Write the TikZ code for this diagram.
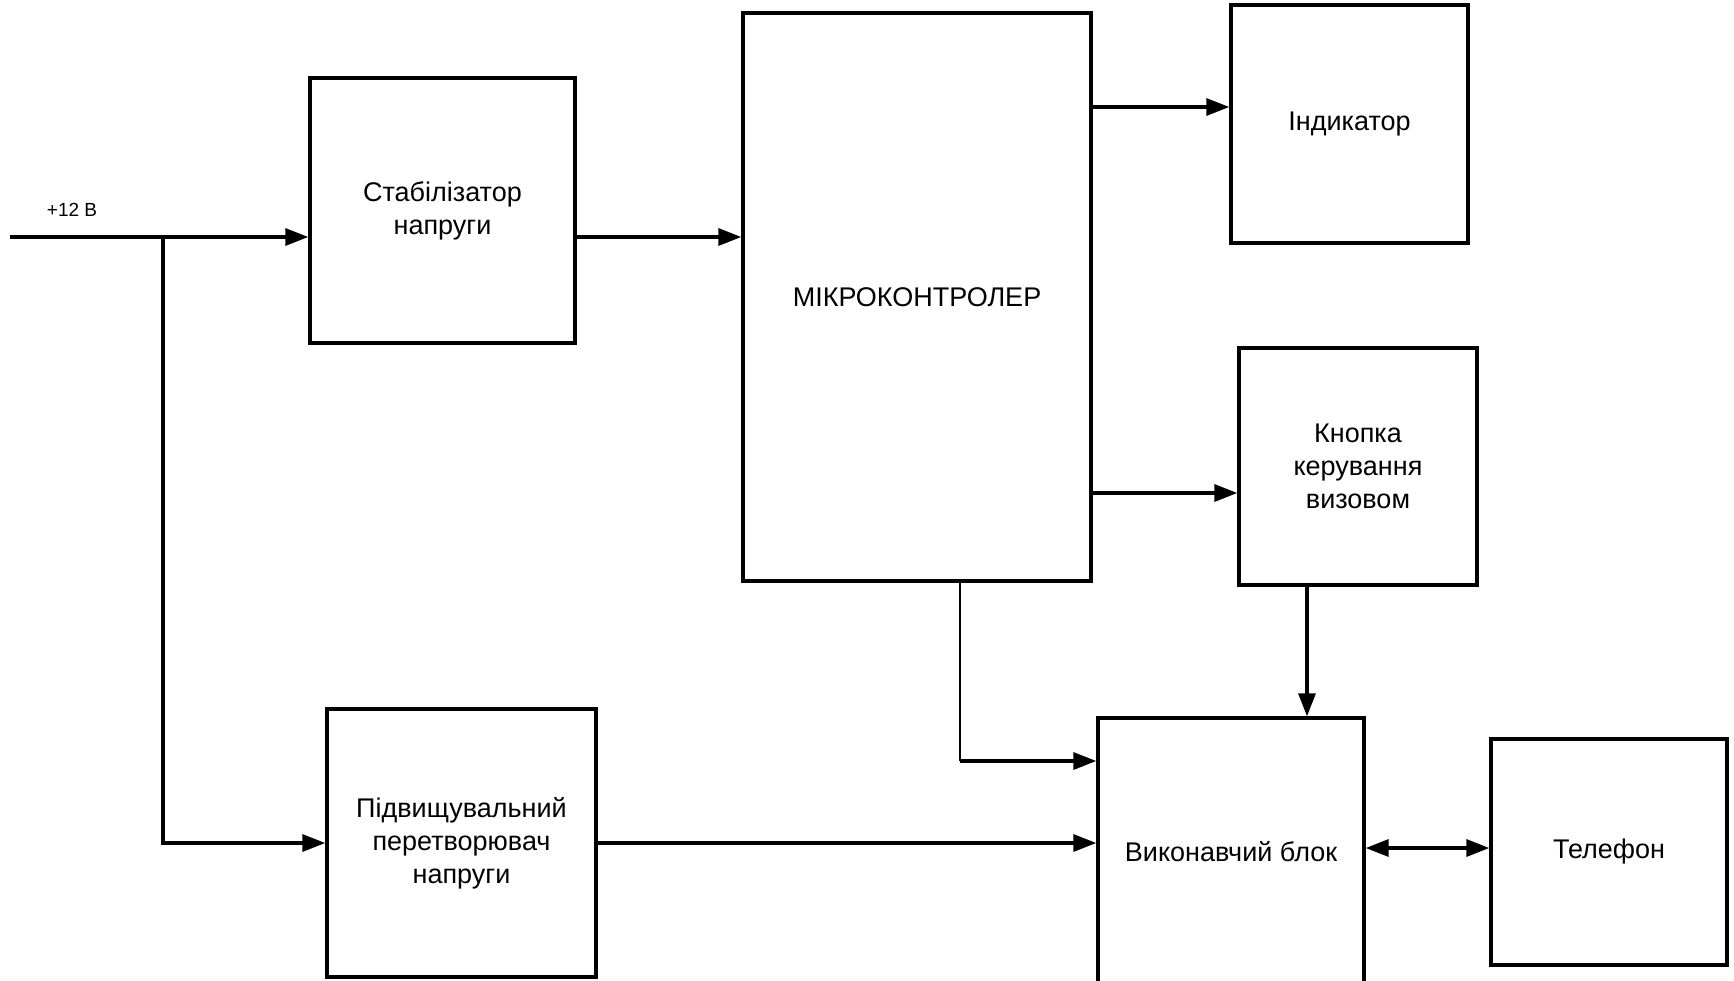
\documentclass[tikz,border=0pt]{standalone}
\usepackage{fontspec}
\setmainfont{Liberation Sans}
\usetikzlibrary{calc,arrows.meta}

\begin{document}
\begin{tikzpicture}[x=0.5pt,y=-0.5pt,
    block/.style={draw,line width=1.7pt,align=center,inner sep=0pt,
        font=\fontsize{13.5}{16.5}\selectfont},
    wire/.style={line width=1.7pt},
    arr/.style={wire,-{Triangle[length=11.5pt,width=8.5pt]}},
    dblarr/.style={wire,{Triangle[length=11.5pt,width=8.5pt]}-{Triangle[length=11.5pt,width=8.5pt]}}]

% Page size, same as the scheme.
\useasboundingbox (0,0) rectangle (1734,980);

%
% Draw the blocks of the scheme.
\node[block,minimum width=132.5pt,minimum height=132.5pt]
    (stabbox) at (442.5,210.5) {Стабілізатор\\напруги};
\node[block,minimum width=174pt,minimum height=284pt]
    (mcubox) at (917,297) {МІКРОКОНТРОЛЕР};
\node[block,minimum width=118.5pt,minimum height=119pt]
    (indbox) at (1349.5,124) {Індикатор};
\node[block,minimum width=119pt,minimum height=118.5pt]
    (knopbox) at (1358,466.5) {Кнопка\\керування\\визовом};
\node[block,minimum width=134.5pt,minimum height=134pt]
    (pidvbox) at (461.5,843) {Підвищувальний\\перетворювач\\напруги};
% the lower edge of this one runs off the page
\node[block,minimum width=133pt,minimum height=134pt]
    (vykonbox) at (1231,852) {Виконавчий блок};
\node[block,minimum width=118pt,minimum height=113pt]
    (telbox) at (1609,852) {Телефон};

% +12 V supply input.
\coordinate (IN) at (10,237);
\node[font=\fontsize{9.5}{11}\selectfont] (inlabel) at (72,210) {+12 В};
\draw[arr]
    (IN)
    % go right to the stabilizer
    -- (IN -| stabbox.west);

% Supply branch down to the boost converter.
\coordinate (BR) at (163,237);
\draw[arr]
    (BR)
    % down, then right
    |- (pidvbox.west);

% Stabilizer output to the microcontroller.
\draw[arr]
    (stabbox.east |- IN) -- (mcubox.west |- IN);

% Microcontroller outputs on the right.
\coordinate (INDIN) at ($(indbox.west)+(0,-17)$);
\draw[arr]
    (mcubox.east |- INDIN) -- (INDIN);

\coordinate (KNOPIN) at ($(knopbox.west)+(0,26.5)$);
\draw[arr]
    (mcubox.east |- KNOPIN) -- (KNOPIN);

% Microcontroller bottom to the actuator block.
\coordinate (MCUOUT) at ($(mcubox.south)+(43,0)$);
\coordinate (VYKIN) at ($(vykonbox.west)+(0,-91)$);
\draw[line width=1.2pt]
    (MCUOUT) -- (MCUOUT |- VYKIN);
\draw[arr]
    (MCUOUT |- VYKIN) -- (VYKIN);

% Button block down to the actuator block.
\coordinate (KNOPOUT) at ($(knopbox.south)+(-51,0)$);
\draw[arr]
    (KNOPOUT) -- (KNOPOUT |- vykonbox.north);

% Boost converter to the actuator block.
\draw[arr]
    (pidvbox.east) -- (pidvbox.east -| vykonbox.west);

% Actuator block and the phone, both ways.
\coordinate (TELIN) at ($(telbox.west)+(0,-4)$);
\draw[dblarr]
    (vykonbox.east |- TELIN) -- (TELIN);

\end{tikzpicture}
\end{document}
